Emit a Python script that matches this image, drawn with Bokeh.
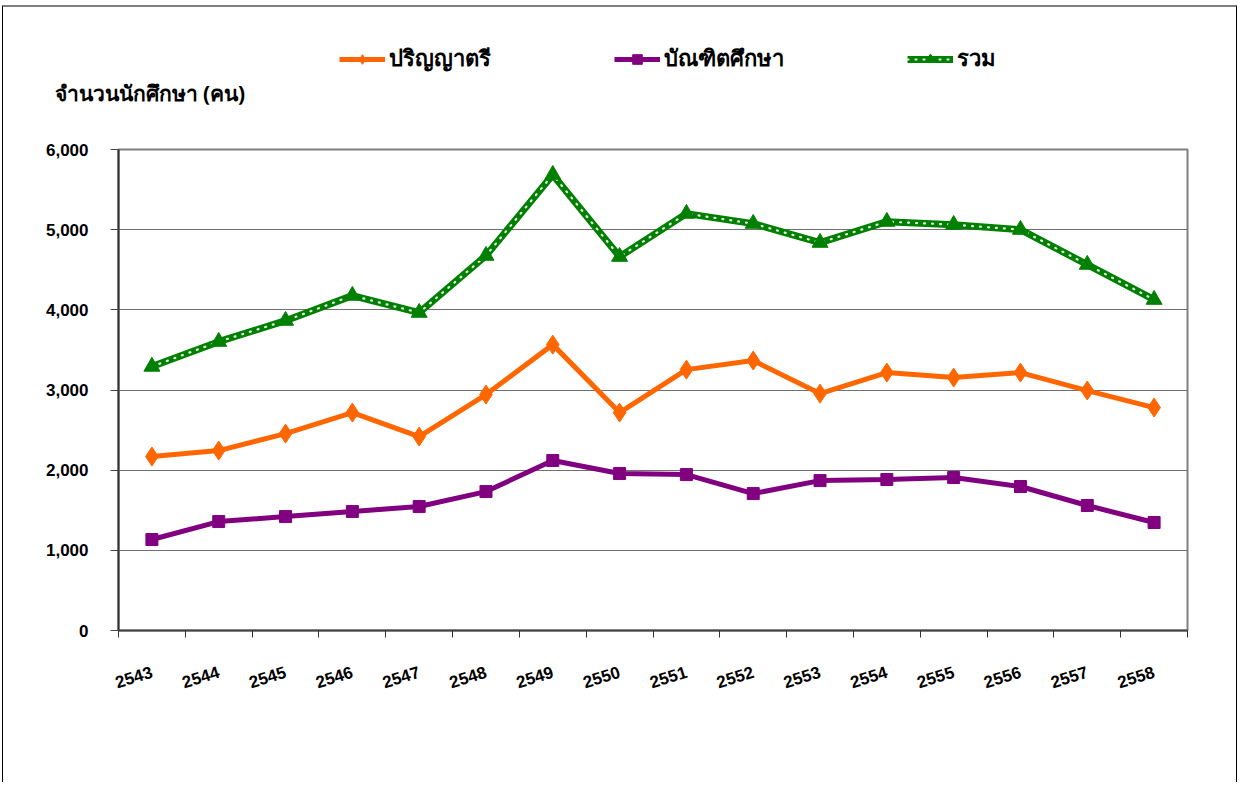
from bokeh.plotting import figure
from bokeh.layouts import column
from bokeh.models import FixedTicker, NumeralTickFormatter, Legend, LegendItem, Range1d, Title
from bokeh.embed import file_html
from bokeh.resources import INLINE

years = ["2543", "2544", "2545", "2546", "2547", "2548", "2549", "2550",
         "2551", "2552", "2553", "2554", "2555", "2556", "2557", "2558"]
bachelor = [2170, 2244, 2456, 2718, 2419, 2943, 3566, 2718,
            3254, 3367, 2955, 3217, 3155, 3217, 2993, 2781]
graduate = [1135, 1359, 1421, 1484, 1546, 1733, 2120, 1958,
            1945, 1708, 1870, 1883, 1908, 1796, 1559, 1347]
total = [3292, 3603, 3865, 4177, 3965, 4676, 5686, 4663,
         5200, 5075, 4838, 5100, 5062, 5000, 4564, 4127]
series_names = ["ปริญญาตรี", "บัณฑิตศึกษา", "รวม"]
y_title = "จำนวนนักศึกษา (คน)"

n = len(years)
xs = [i + 0.5 for i in range(n)]

ORANGE, PURPLE, GREEN = "#FF6600", "#800080", "#008000"
W = 1233
TOP_H = 101
MAIN_H = 674


def draw_series(fig):
    o_line = fig.line(xs, bachelor, line_color=ORANGE, line_width=5)
    o_mark = fig.scatter(xs, bachelor, marker="diamond", size=19, fill_color=ORANGE,
                         line_color=ORANGE)
    pu_line = fig.line(xs, graduate, line_color=PURPLE, line_width=5)
    pu_mark = fig.scatter(xs, graduate, marker="square", size=12, fill_color=PURPLE,
                          line_color=PURPLE)
    g_line = fig.line(xs, total, line_color=GREEN, line_width=7)
    g_dots = fig.line(xs, total, line_color="#E8F2E8", line_width=2.2, line_dash="1 7",
                      line_cap="round")
    g_mark = fig.scatter(xs, total, marker="triangle", size=16, fill_color=GREEN,
                         line_color=GREEN)
    return [[o_line, o_mark], [pu_line, pu_mark], [g_line, g_dots, g_mark]]


# ---------- header figure: legend + y-axis title ----------
h = figure(width=W, height=TOP_H, output_backend="svg", toolbar_location=None,
           x_range=Range1d(0, W), y_range=Range1d(-100000, -100000 + TOP_H),
           min_border=0, min_border_bottom=29, title=None)
h.axis.visible = False
h.grid.visible = False
h.outline_line_color = None
# series lie outside this header's visible range: they only serve as legend samples
h_series = draw_series(h)

legend_x = [221, 496, 789]
for name, rends, lx in zip(series_names, h_series, legend_x):
    lg = Legend(items=[LegendItem(label=name, renderers=rends)],
                orientation="horizontal", location=(lx, 2),
                border_line_color=None, background_fill_alpha=0,
                glyph_width=46, glyph_height=24, label_standoff=4,
                padding=0, margin=0, label_height=22,
                label_text_font="Noto Sans", label_text_font_size="22px",
                label_text_line_height=1.0,
                label_text_font_style="bold", label_text_color="#000000")
    h.add_layout(lg, "center")

h.add_layout(Title(text=y_title, align="left", offset=-64, standoff=0,
                   vertical_align="top",
                   text_font="Noto Sans", text_font_style="bold", text_font_size="21px",
                   text_color="#000000"), "below")

# ---------- main chart ----------
p = figure(width=W, height=MAIN_H, output_backend="svg", toolbar_location=None,
           x_range=Range1d(0, n), y_range=Range1d(0, 6000), title=None,
           min_border_left=115, min_border_right=49,
           min_border_top=41, min_border_bottom=152)

p.outline_line_color = "#808080"
p.outline_line_width = 2
p.xgrid.grid_line_color = None
p.ygrid.grid_line_color = "#707070"
p.ygrid.grid_line_width = 1

p.xaxis.ticker = FixedTicker(ticks=xs, minor_ticks=list(range(n + 1)))
p.xaxis.major_label_overrides = {x: y for x, y in zip(xs, years)}
p.xaxis.major_tick_out = 0
p.xaxis.major_tick_in = 0
p.xaxis.minor_tick_out = 7
p.xaxis.minor_tick_in = 0
p.xaxis.minor_tick_line_color = "#333333"
p.xaxis.axis_line_color = "#444444"
p.xaxis.axis_line_width = 2
p.xaxis.major_label_orientation = 0.3
p.xaxis.major_label_standoff = 34
p.xaxis.major_label_text_font = "Liberation Sans"
p.xaxis.major_label_text_font_style = "bold"
p.xaxis.major_label_text_font_size = "17px"
p.xaxis.major_label_text_color = "#000000"

p.yaxis.ticker = FixedTicker(ticks=[0, 1000, 2000, 3000, 4000, 5000, 6000], minor_ticks=[])
p.yaxis.formatter = NumeralTickFormatter(format="0,0")
p.yaxis.major_tick_out = 8
p.yaxis.major_tick_in = 0
p.yaxis.major_tick_line_color = "#444444"
p.yaxis.axis_line_color = "#333333"
p.yaxis.axis_line_width = 2
p.yaxis.major_label_standoff = 22
p.yaxis.major_label_text_font = "Liberation Sans"
p.yaxis.major_label_text_font_style = "bold"
p.yaxis.major_label_text_font_size = "17px"
p.yaxis.major_label_text_color = "#000000"

draw_series(p)

layout = column(h, p, spacing=0)
layout.styles = {"border-top": "2px solid #808080", "border-left": "1px solid #000000",
                 "border-right": "1px solid #000000", "margin-top": "5px",
                 "margin-left": "2px"}

open("out.html", "w").write(file_html(layout, INLINE))
